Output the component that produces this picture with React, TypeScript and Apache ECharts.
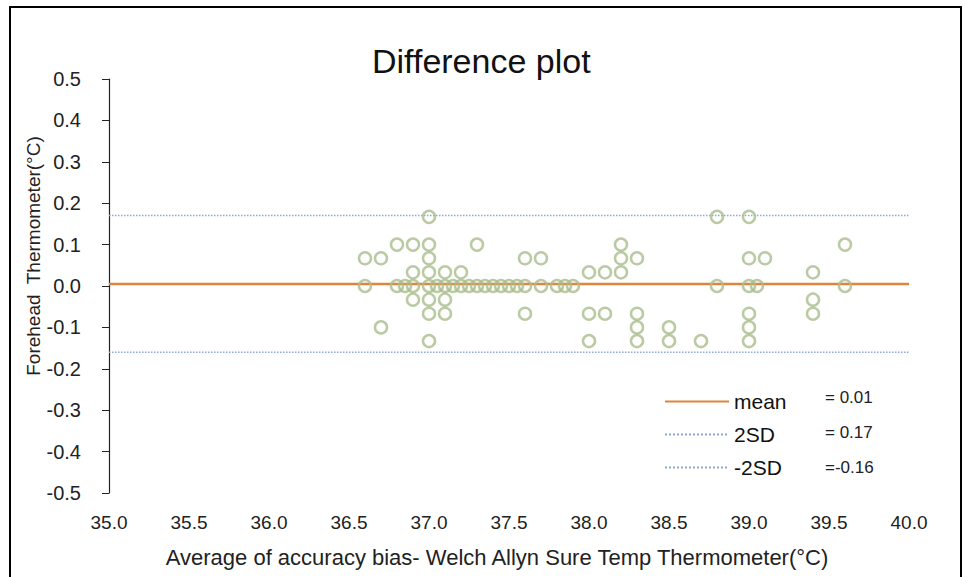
import React, { useEffect, useRef } from "react";
import * as echarts from "echarts";

// Difference (Bland-Altman) data: [average, difference]
const points: [number, number][] = [
  // +0.167
  [37.0, 0.167], [38.8, 0.167], [39.0, 0.167],
  // +0.1
  [36.8, 0.1], [36.9, 0.1], [37.0, 0.1], [37.3, 0.1], [38.2, 0.1], [39.6, 0.1],
  // +0.067
  [36.6, 0.067], [36.7, 0.067], [37.0, 0.067], [37.6, 0.067], [37.7, 0.067],
  [38.2, 0.067], [38.3, 0.067], [39.0, 0.067], [39.1, 0.067],
  // +0.033
  [36.9, 0.033], [37.0, 0.033], [37.1, 0.033], [37.2, 0.033], [38.0, 0.033],
  [38.1, 0.033], [38.2, 0.033], [39.4, 0.033],
  // 0
  [36.6, 0], [36.8, 0], [36.85, 0], [36.9, 0], [37.0, 0], [37.05, 0], [37.1, 0],
  [37.15, 0], [37.2, 0], [37.25, 0], [37.3, 0], [37.35, 0], [37.4, 0], [37.45, 0],
  [37.5, 0], [37.55, 0], [37.6, 0], [37.7, 0], [37.8, 0], [37.85, 0], [37.9, 0],
  [38.8, 0], [39.0, 0], [39.05, 0], [39.6, 0],
  // -0.033
  [36.9, -0.033], [37.0, -0.033], [37.1, -0.033], [39.4, -0.033],
  // -0.067
  [37.0, -0.067], [37.1, -0.067], [37.6, -0.067], [38.0, -0.067], [38.1, -0.067],
  [38.3, -0.067], [39.0, -0.067], [39.4, -0.067],
  // -0.1
  [36.7, -0.1], [38.3, -0.1], [38.5, -0.1], [39.0, -0.1],
  // -0.133
  [37.0, -0.133], [38.0, -0.133], [38.3, -0.133], [38.5, -0.133], [38.7, -0.133], [39.0, -0.133],
];

const meanValue = 0.005;
const upperSD = 0.17;
const lowerSD = -0.16;
const lineRange = [35, 40];

const legendNames = ["mean", "2SD", "-2SD"];
const legendValues = ["= 0.01", "= 0.17", "=-0.16"];

const xTickMin = 35;
const xTickMax = 40;
const yTickMin = -0.5;
const yTickMax = 0.5;

export default function App() {
  const ref = useRef<HTMLDivElement>(null);

  useEffect(() => {
    document.body.style.margin = "0";
    if (!ref.current) return;
    const chart = echarts.init(ref.current, undefined, { renderer: "svg" });
    const font = "Liberation Sans, Arial, sans-serif";
    const hline = (v: number) => lineRange.map((x) => [x, v]);

    chart.setOption({
      animation: false,
      backgroundColor: "#ffffff",
      textStyle: { fontFamily: font },
      title: {
        text: "Difference plot",
        left: 367,
        top: 39,
        textStyle: { fontSize: 34, fontWeight: "normal", color: "#111", fontFamily: font },
      },
      grid: { left: 109, right: 57, top: 79, bottom: 84, containLabel: false },
      xAxis: {
        type: "value",
        min: xTickMin,
        max: xTickMax,
        interval: 0.5,
        axisLine: { show: false },
        axisTick: { show: false },
        splitLine: { show: false },
        axisLabel: {
          color: "#222",
          fontSize: 19,
          margin: 20,
          formatter: (v: number) => v.toFixed(1),
        },
      },
      yAxis: {
        type: "value",
        min: yTickMin,
        max: yTickMax,
        interval: 0.1,
        axisLine: { show: true, lineStyle: { color: "#222", width: 1.2 } },
        axisTick: { show: true, inside: false, length: 7, lineStyle: { color: "#222" } },
        splitLine: { show: false },
        axisLabel: {
          color: "#222",
          fontSize: 20,
          margin: 28,
          formatter: (v: number) => v.toFixed(1),
        },
      },
      legend: {
        orient: "vertical",
        left: 659,
        top: 386,
        itemWidth: 64,
        itemHeight: 14,
        itemGap: 12,
        data: legendNames,
        itemStyle: { opacity: 0 },
        textStyle: { fontSize: 21, color: "#111", fontFamily: font },
      },
      series: [
        {
          name: legendNames[0],
          type: "line",
          data: hline(meanValue),
          symbol: "none",
          lineStyle: { color: "#e0833c", width: 2.5 },
          itemStyle: { color: "#e0833c" },
          z: 2,
        },
        {
          name: legendNames[1],
          type: "line",
          data: hline(upperSD),
          symbol: "none",
          lineStyle: { color: "#8ea7d6", width: 1.5, type: "dotted" },
          itemStyle: { color: "#8ea7d6" },
          z: 2,
        },
        {
          name: legendNames[2],
          type: "line",
          data: hline(lowerSD),
          symbol: "none",
          lineStyle: { color: "#8ea7d6", width: 1.5, type: "dotted" },
          itemStyle: { color: "#8ea7d6" },
          z: 2,
        },
        {
          name: "difference",
          type: "scatter",
          data: points,
          symbol: "circle",
          symbolSize: 12,
          itemStyle: { color: "rgba(0,0,0,0)", borderColor: "#a9be8d", borderWidth: 2.5 },
          z: 3,
        },
      ],
      graphic: [
        {
          type: "rect",
          shape: { x: 10, y: 7, width: 951, height: 600 },
          style: { fill: "none", stroke: "#000", lineWidth: 2 },
          silent: true,
        },
        {
          type: "text",
          x: 33,
          y: 256,
          rotation: Math.PI / 2,
          style: {
            text: "Forehead  Thermometer(°C)",
            fontSize: 19,
            fill: "#222",
            fontFamily: font,
            align: "center",
            verticalAlign: "middle",
          },
        },
        {
          type: "text",
          x: 497,
          y: 557,
          style: {
            text: "Average of accuracy bias- Welch Allyn Sure Temp Thermometer(°C)",
            fontSize: 22,
            fill: "#222",
            fontFamily: font,
            align: "center",
            verticalAlign: "middle",
          },
        },
        ...legendValues.map((t, i) => ({
          type: "text",
          x: 825,
          y: 397 + i * 35,
          style: {
            text: t,
            fontSize: 17,
            fill: "#222",
            fontFamily: font,
            verticalAlign: "middle",
          },
        })),
      ],
    });

    return () => chart.dispose();
  }, []);

  return <div ref={ref} style={{ width: 966, height: 577 }} />;
}
